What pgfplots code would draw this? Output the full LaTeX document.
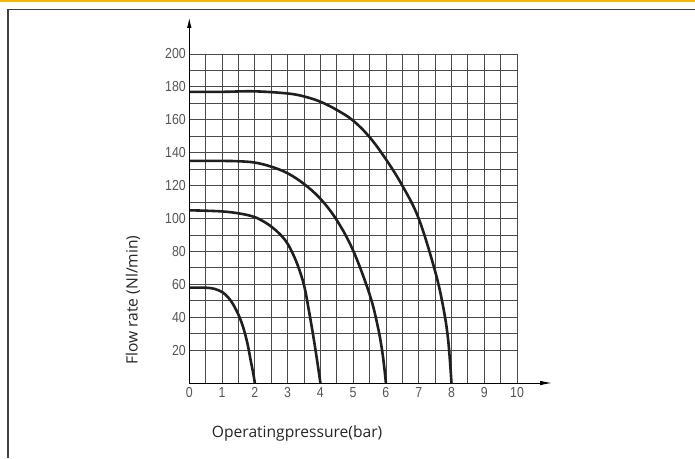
\documentclass[border=0pt]{standalone}
\usepackage{pgfplots}
\pgfplotsset{compat=1.18}
\usetikzlibrary{arrows.meta}
\usepackage{fontspec}
\setmainfont{Open Sans}
\newfontfamily\tickfont{Liberation Sans}[FakeStretch=0.85]
\definecolor{topbar}{HTML}{F5B800}
\definecolor{gridc}{HTML}{4A4A4A}
\definecolor{tickc}{HTML}{555555}
\pgfplotsset{curve/.style={smooth, tension=0.6, line width=2.6pt, color=black!88, mark=none}}
\begin{document}
\begin{tikzpicture}
\path[use as bounding box, fill=white] (0pt,0pt) rectangle (695pt,458pt);
\begin{axis}[
    at={(189.3pt,75pt)},
    anchor=south west,
    scale only axis,
    width=327.7pt,
    height=329pt,
    xmin=0, xmax=10,
    ymin=0, ymax=200,
    axis line style={draw=none},
    xtick={0,1,...,10},
    ytick={20,40,...,200},
    minor x tick num=1,
    minor y tick num=1,
    extra y ticks={0},
    extra y tick labels={},
    grid=both,
    grid style={draw=gridc, line width=0.8pt},
    minor grid style={draw=gridc, line width=0.8pt},
    major tick length=0pt,
    minor tick length=0pt,
    tick label style={font=\tickfont\fontsize{14.5}{16}\selectfont, text=tickc},
    /pgf/number format/assume math mode=true,
    xticklabel style={yshift=-1pt},
    xlabel={Operatingpressure(bar)},
    ylabel={Flow rate (Nl/min)},
    label style={font=\fontsize{15.6}{18}\selectfont, text=black!85},
    xlabel style={at={(axis description cs:0.329,-0.152)}, anchor=center},
    ylabel style={at={(axis description cs:-0.172,0.252)}, anchor=center, rotate=0},
    clip=false,
]
% flow curves
\addplot[curve] coordinates {
    (0,58) (0.6,57.8) (0.9,56.3) (1.1,53.8) (1.3,49) (1.5,41.5)
    (1.65,33.5) (1.78,23.5) (1.88,13) (1.95,6) (2,0)
};
\addplot[curve] coordinates {
    (0,105) (1,104.3) (1.6,102.8) (2,100.8) (2.3,97.8) (2.6,93.5) (2.9,87.5)
    (3.1,81) (3.3,72) (3.5,59.5) (3.65,44) (3.8,26.5) (3.92,11) (4,0)
};
\addplot[curve] coordinates {
    (0,135) (1,135) (1.5,134.8) (2,134) (2.5,131.5) (3,127.5) (3.5,121)
    (4,112) (4.5,99) (5,80.5) (5.5,54) (5.75,34.5) (5.9,17.5) (6,0)
};
\addplot[curve] coordinates {
    (0,177) (1,177) (2,177.3) (3,176) (3.5,174.2) (4,171) (4.5,166)
    (5,159.5) (5.5,149.5) (6,136) (6.5,120) (7,100) (7.5,68) (7.75,46)
    (7.9,26) (8,0)
};
% axis arrows
\draw[line width=1pt, black, -{Latex[length=10pt,width=4.5pt]}] (axis cs:0,0) -- (axis cs:0,222);
\draw[line width=1pt, black, -{Latex[length=12pt,width=4.5pt]}] (axis cs:0,0) -- (axis cs:11.07,0);
\end{axis}
% page frame
\fill[topbar] (0pt,456pt) rectangle (695pt,458pt);
\draw[line width=1.6pt, black!75] (695pt,448.5pt) -- (8pt,448.5pt) -- (8pt,0pt);
\end{tikzpicture}
\end{document}
